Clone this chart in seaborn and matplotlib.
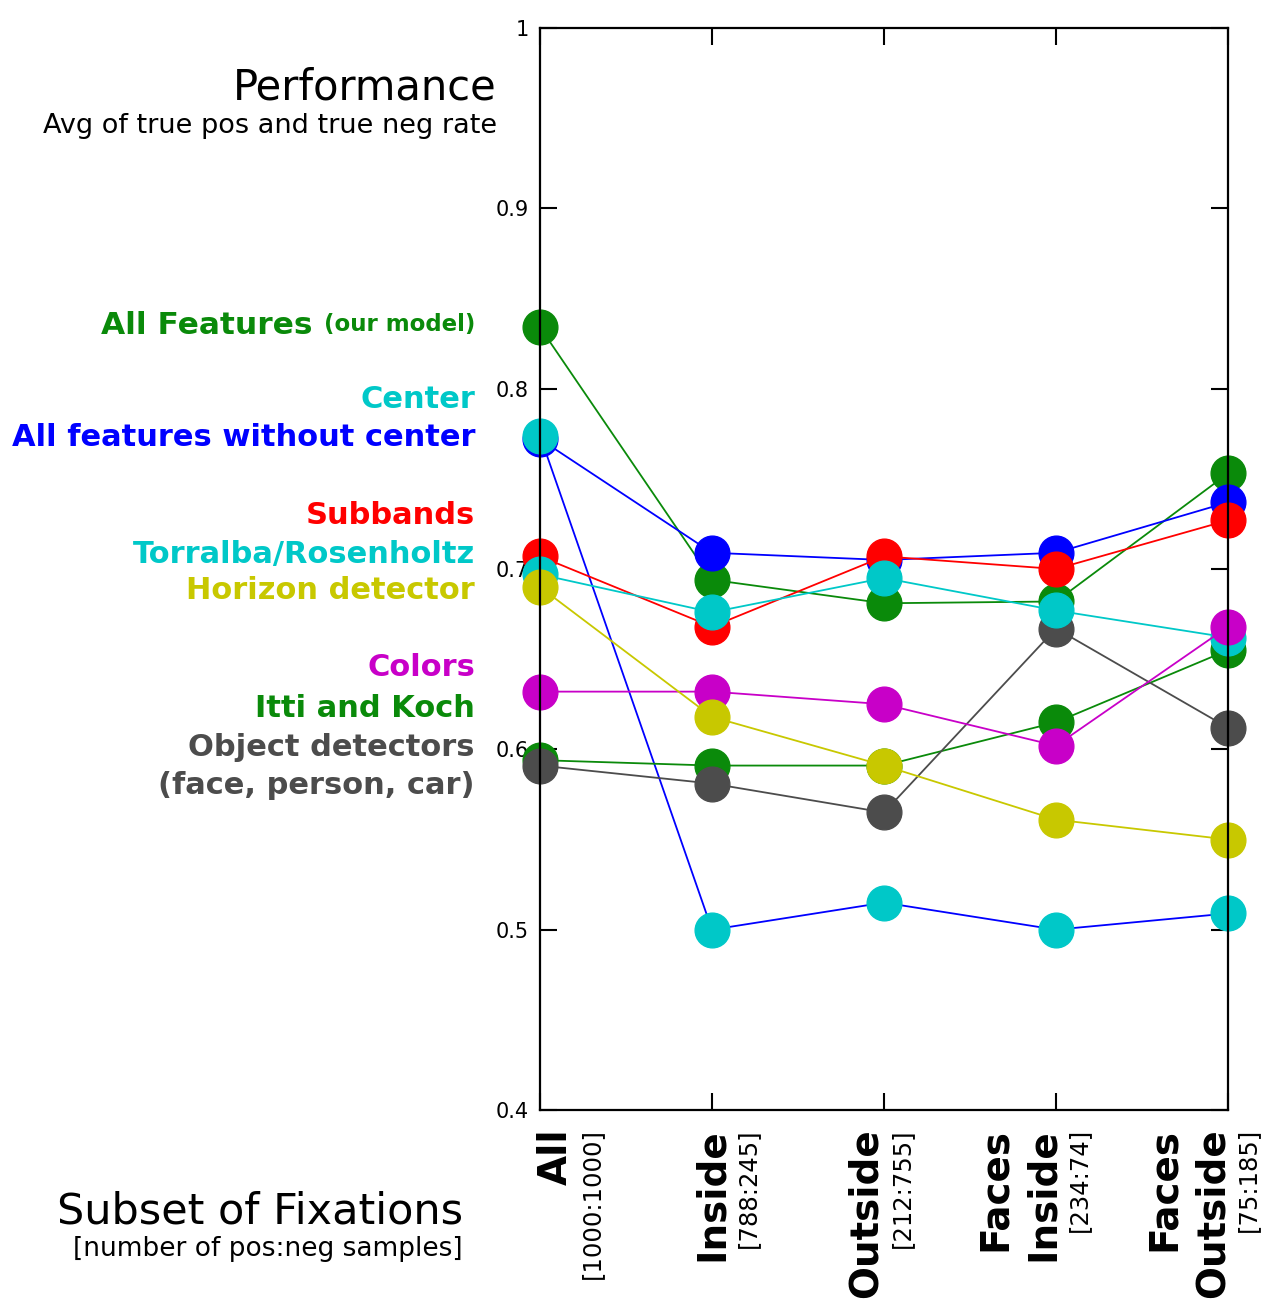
import numpy as np
import pandas as pd
import matplotlib
matplotlib.use("Agg")
import matplotlib.pyplot as plt
import matplotlib.transforms as mtransforms
import seaborn as sns

# Data
categories = ["All", "Inside", "Outside", "Faces\nInside", "Faces\nOutside"]
sample_counts = ["[1000:1000]", "[788:245]", "[212:755]", "[234:74]", "[75:185]"]

all_features = [0.834, 0.694, 0.681, 0.682, 0.753]
without_center = [0.772, 0.709, 0.705, 0.709, 0.737]
center = [0.774, 0.500, 0.515, 0.500, 0.509]
itti_koch = [0.594, 0.591, 0.591, 0.615, 0.655]
object_detectors = [0.591, 0.581, 0.565, 0.667, 0.612]
subbands = [0.707, 0.668, 0.707, 0.700, 0.727]
torralba = [0.697, 0.676, 0.695, 0.677, 0.662]
colors_feat = [0.632, 0.632, 0.625, 0.602, 0.668]
horizon = [0.690, 0.618, 0.591, 0.561, 0.550]

GREEN = "#0a8a0a"
CYAN = "#00c8c8"
BLUE = "#0000ff"
RED = "#ff0000"
YELLOW = "#c8c800"
MAGENTA = "#c800c8"
GRAY = "#4c4c4c"

# drawing order, bottom to top: (values, line colour, marker colour)
series = [
    (all_features, GREEN, GREEN),
    (without_center, BLUE, BLUE),
    (center, BLUE, CYAN),
    (itti_koch, GREEN, GREEN),
    (object_detectors, GRAY, GRAY),
    (subbands, RED, RED),
    (torralba, CYAN, CYAN),
    (colors_feat, MAGENTA, MAGENTA),
    (horizon, YELLOW, YELLOW),
]

sns.set_theme(style="white")
plt.rcParams["font.family"] = ["DejaVu Sans"]

fig = plt.figure(figsize=(12.68, 13.07), dpi=100)
ax = fig.add_axes([540 / 1268, 197 / 1307, 688 / 1268, 1082 / 1307])

xs = np.arange(len(categories))
for i, (vals, lc, mc) in enumerate(series):
    df = pd.DataFrame({"x": xs, "y": vals})
    sns.lineplot(data=df, x="x", y="y", ax=ax, color=lc, linewidth=1.3,
                 marker="o", markersize=25, markerfacecolor=mc,
                 markeredgecolor=mc, markeredgewidth=1,
                 clip_on=False, zorder=2 + i * 0.05)

ax.set_xlim(0, len(categories) - 1)
ax.set_ylim(0.4, 1.0)
ax.set_xlabel("")
ax.set_ylabel("")
ax.set_xticks(xs)
ax.set_xticklabels([])
ax.set_yticks([0.4, 0.5, 0.6, 0.7, 0.8, 0.9, 1.0])
ax.set_yticklabels(["0.4", "0.5", "0.6", "0.7", "0.8", "0.9", "1"],
                   family=["Liberation Sans Narrow", "DejaVu Sans"], fontsize=15)
ax.tick_params(direction="in", length=12, width=1.5, top=True, right=True,
               left=True, bottom=True, colors="black", pad=8)
for sp in ax.spines.values():
    sp.set_color("black")
    sp.set_linewidth(1.6)

# category labels under the axis (rotated), with sample counts beside them
label_dx = [16, 0, -18, -37, -40]
base = mtransforms.blended_transform_factory(ax.transData, ax.transAxes)
for i, (cat, cnt) in enumerate(zip(categories, sample_counts)):
    tr = mtransforms.offset_copy(base, fig=fig, x=label_dx[i], y=-18, units="dots")
    t = ax.text(i, 0, cat, transform=tr, rotation=90, ha="center", va="top",
                fontsize=28, fontweight="bold", linespacing=1.35,
                multialignment="right", color="black")
    ax.annotate(cnt, xy=(1, 1), xycoords=t, xytext=(5, 0), textcoords="offset pixels",
                rotation=90, ha="left", va="top", fontsize=17.5, color="black",
                annotation_clip=False)

# titles
fig.text(497 / 1268, 1 - 88 / 1307, "Performance", ha="right", va="center",
         fontsize=30, color="black")
fig.text(497 / 1268, 1 - 126 / 1307, "Avg of true pos and true neg rate",
         ha="right", va="center", fontsize=19.5, color="black")
fig.text(463 / 1268, 1 - 1212 / 1307, "Subset of Fixations", ha="right",
         va="center", fontsize=31, color="black")
fig.text(463 / 1268, 1 - 1249 / 1307, "[number of pos:neg samples]", ha="right",
         va="center", fontsize=19, color="black")

# series names at the left
lx = 475 / 1268
ours = fig.text(lx, 1 - 325 / 1307, "(our model)", ha="right", va="center",
                fontsize=16.5, fontweight="bold", color=GREEN)
ax.annotate("All Features ", xy=(0, 0.5), xycoords=ours, ha="right",
            va="center", fontsize=22.5, fontweight="bold", color=GREEN,
            annotation_clip=False)
legend_rows = [
    ("Center", CYAN, 400),
    ("All features without center", BLUE, 437),
    ("Subbands", RED, 515),
    ("Torralba/Rosenholtz", CYAN, 554),
    ("Horizon detector", YELLOW, 591),
    ("Colors", MAGENTA, 668),
    ("Itti and Koch", GREEN, 708),
    ("Object detectors", GRAY, 747),
    ("(face, person, car)", GRAY, 785),
]
for txt, c, py in legend_rows:
    fig.text(lx, 1 - py / 1307, txt, ha="right", va="center", fontsize=22,
             fontweight="bold", color=c)

fig.savefig("out.png", dpi=100)
